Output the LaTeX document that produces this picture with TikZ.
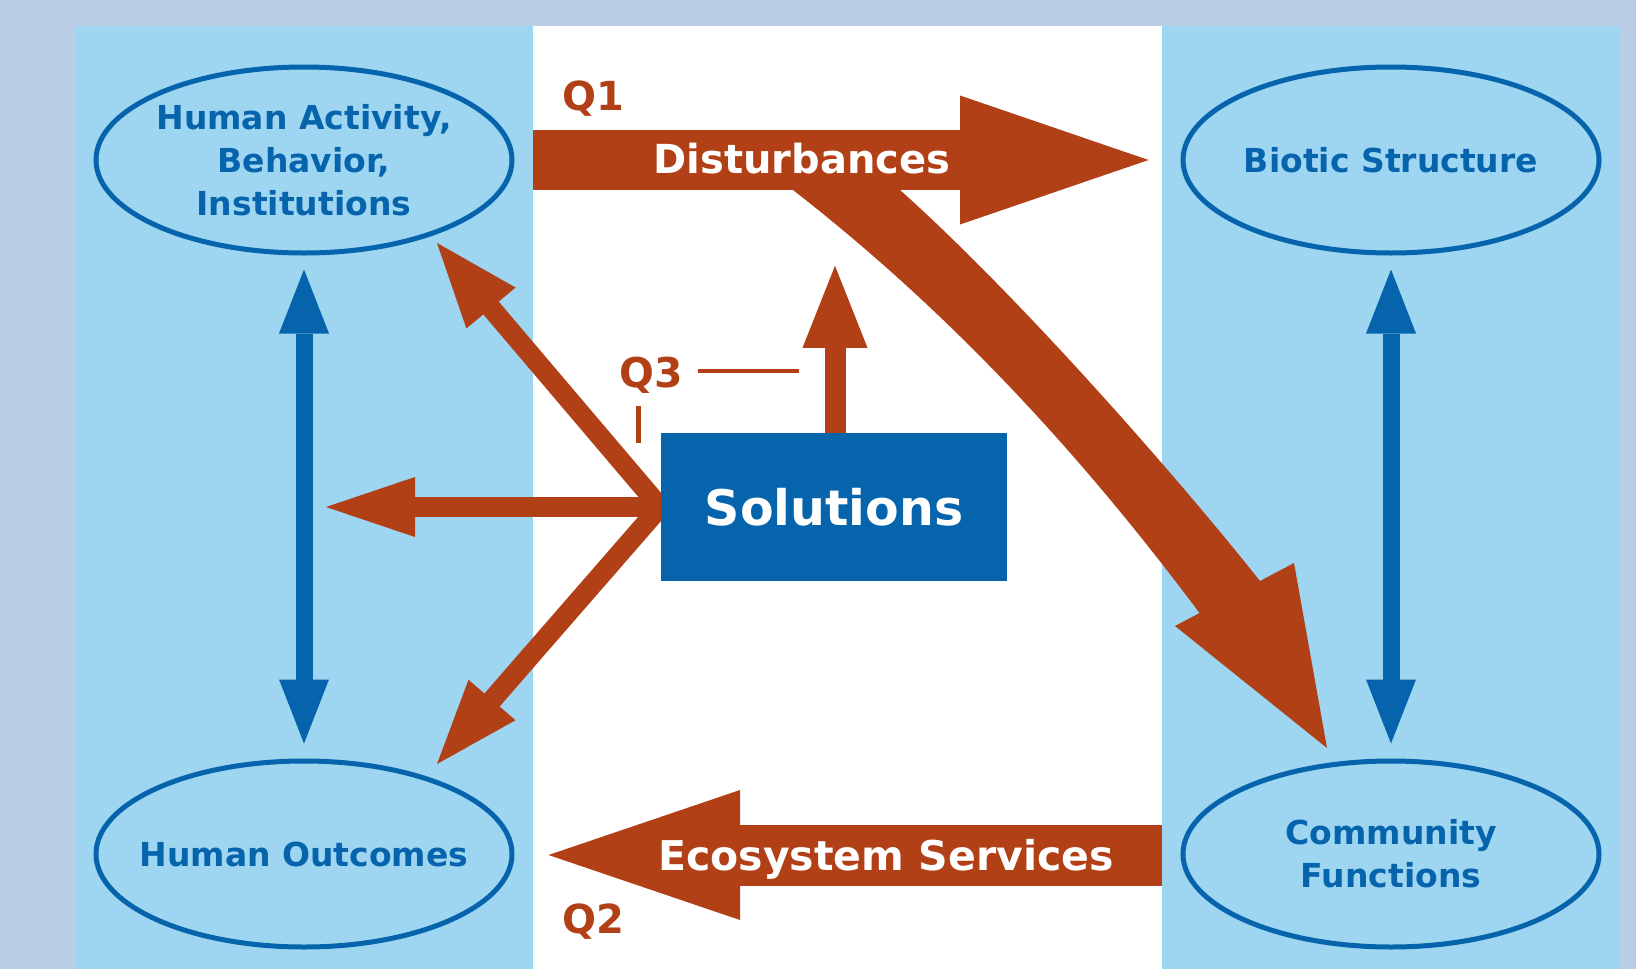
\documentclass[tikz,border=0pt]{standalone}
\usepackage{fontspec}
\setmainfont{DejaVu Sans}
\usetikzlibrary{calc,shapes.geometric}
\definecolor{framebg}{RGB}{185,205,229}
\definecolor{panelbg}{RGB}{158,213,240}
\definecolor{dblue}{RGB}{6,100,172}
\definecolor{rust}{RGB}{178,64,22}
% #1 colour, #2 base centre, #3 tip, #4 half width
\newcommand\arrowtri[4]{\fill[#1] ($(#2)!#4!90:(#3)$) -- (#3) -- ($(#2)!#4!-90:(#3)$) -- cycle;}
\begin{document}
\begin{tikzpicture}[x=1pt,y=-1pt,
  oval/.style={ellipse, draw=dblue, line width=5pt, fill=panelbg,
    minimum width=416pt, minimum height=186pt, inner sep=0pt},
  otext/.style={text=dblue, font=\fontsize{33}{43}\selectfont\bfseries,
    align=center, inner sep=0pt},
  wtext/.style={text=white, font=\fontsize{41}{49}\selectfont\bfseries,
    inner sep=0pt, anchor=base},
  qtext/.style={text=rust, font=\fontsize{40}{48}\selectfont\bfseries,
    inner sep=0pt, anchor=base},
  bshaft/.style={draw=dblue, line width=17pt},
  rshaft/.style={draw=rust, line width=20pt},
  solbox/.style={fill=dblue, minimum width=346pt, minimum height=148pt,
    inner sep=0pt, text=white, font=\fontsize{49}{58}\selectfont\bfseries},
  leader/.style={draw=rust, line width=4.5pt}
]
\useasboundingbox (0,0) rectangle (1636,969);
% backgrounds
\fill[framebg] (0,0) rectangle (1636,969);
\fill[panelbg] (76,26) rectangle (533,969);
\fill[white] (533,26) rectangle (1162,969);
\fill[panelbg] (1162,26) rectangle (1619,969);

% ellipses
\node[oval] (HA) at (304,160) {};
\node[oval] (BS) at (1391,160) {};
\node[oval] (HO) at (304,854) {};
\node[oval] (CF) at (1391,854) {};
\node[otext] (HAt) at (HA.center) {Human Activity,\\Behavior,\\Institutions};
\node[otext] (BSt) at (BS.center) {Biotic Structure};
\node[otext] (HOt) at (HO.center) {Human Outcomes};
\node[otext] (CFt) at (CF.center) {Community\\Functions};

% blue double arrows
\coordinate (lt) at ($(HA.south)+(0,14)$);
\coordinate (lb) at ($(HO.north)+(0,-15)$);
\coordinate (ltb) at ($(lt)+(0,64)$);
\coordinate (lbb) at ($(lb)+(0,-64)$);
\draw[bshaft] (ltb) -- (lbb);
\arrowtri{dblue}{ltb}{lt}{25pt}
\arrowtri{dblue}{lbb}{lb}{25pt}
\coordinate (rt) at ($(BS.south)+(0,14)$);
\coordinate (rb) at ($(CF.north)+(0,-15)$);
\coordinate (rtb) at ($(rt)+(0,64)$);
\coordinate (rbb) at ($(rb)+(0,-64)$);
\draw[bshaft] (rtb) -- (rbb);
\arrowtri{dblue}{rtb}{rt}{25pt}
\arrowtri{dblue}{rbb}{rb}{25pt}

% Solutions box and its arrows
\coordinate (J) at (660,507);
\coordinate (t1) at (326,507);   \coordinate (b1) at (415,507);
\coordinate (t2) at (437,243);   \coordinate (b2) at (491,308);
\coordinate (t3) at (437,764);   \coordinate (b3) at (492,700);
\draw[rshaft, line cap=round] (J) -- (b1);
\draw[rshaft, line cap=round] (J) -- (b2);
\draw[rshaft, line cap=round] (J) -- (b3);
\arrowtri{rust}{b1}{t1}{30pt}
\arrowtri{rust}{b2}{t2}{32pt}
\arrowtri{rust}{b3}{t3}{31pt}
\node[solbox] (sol) at (834,507) {Solutions};
\coordinate (t4) at ($(sol.north)+(1,-167)$);
\coordinate (b4) at ($(sol.north)+(1,-85)$);
\draw[rshaft, line width=21pt] ($(sol.north)+(1,0)$) -- (b4);
\arrowtri{rust}{b4}{t4}{32.5pt}

% Disturbances arrow and curved branch to Community Functions
\coordinate (d0) at (533,160);
\coordinate (dbase) at (960,160);
\coordinate (dtip) at ($(BS.west)+(-32,0)$);
\coordinate (cl0) at (793,190);
\coordinate (cl1) at (1204,619);
\coordinate (cr1) at (1264,586);
\coordinate (cr0) at (900,190);
\coordinate (cb1) at (1175,626);
\coordinate (cb2) at (1294,563);
\coordinate (ctip) at (1327,748);
\fill[rust] (812,160) -- (cl0) .. controls (951,313) and (1082,455) .. (cl1)
  -- (cr1) .. controls (1168,465) and (1012,290) .. (cr0) -- (890,160) -- cycle;
\fill[rust] (cb1) -- (ctip) -- (cb2) -- cycle;
\draw[draw=rust, line width=60pt] (d0) -- (dbase);
\arrowtri{rust}{dbase}{dtip}{64.5pt}
\node[wtext, font=\fontsize{40}{48}\selectfont\bfseries] (dist) at (802,173) {Disturbances};

% Ecosystem services arrow
\coordinate (e0) at (1162,855);
\coordinate (ebase) at (740,855);
\coordinate (etip) at ($(HO.east)+(34,1)$);
\draw[draw=rust, line width=61pt] (e0) -- (ebase);
\arrowtri{rust}{ebase}{etip}{65pt}
\node[wtext] (eco) at (886,870) {Ecosystem Services};

% question labels
\node[qtext] (Q1) at (593,110) {Q1};
\node[qtext] (Q2) at (593,933) {Q2};
\node[qtext, font=\fontsize{41}{49}\selectfont\bfseries] (Q3) at (651,387) {Q3};
\coordinate (q3h0) at (698,371);
\coordinate (q3h) at (799,371);
\coordinate (q3v0) at (638,406);
\coordinate (q3v) at (638,443);
\draw[leader] (q3h0) -- (q3h);
\draw[leader, line width=5pt] (q3v0) -- (q3v);
\end{tikzpicture}
\end{document}
